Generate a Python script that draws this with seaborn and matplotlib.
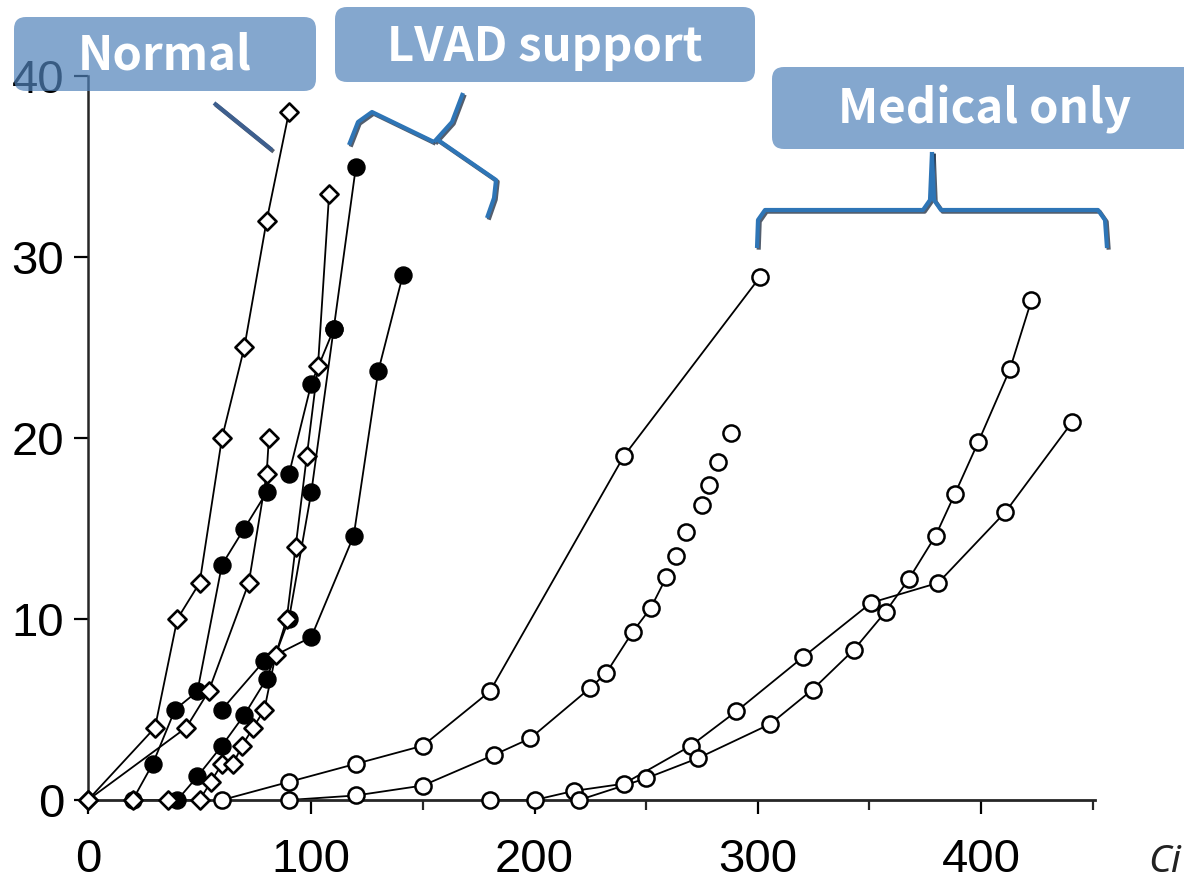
import numpy as np
import pandas as pd
import seaborn as sns
import matplotlib
matplotlib.use("Agg")
import matplotlib.pyplot as plt
from matplotlib.patches import FancyBboxPatch
from matplotlib.lines import Line2D
from matplotlib.transforms import Affine2D
import matplotlib.patheffects as pe

# ---------------- data ----------------
# Normal (open diamonds)
N1_x = [0, 30, 40, 50, 60, 70, 80, 90]
N1_y = [0, 4, 10, 12, 20, 25, 32, 38]
N2_x = [0, 44, 54, 72, 80, 81]
N2_y = [0, 4, 6, 12, 18, 20]
N3_x = [20, 36, 50, 55, 60, 65, 69, 74, 79, 84, 89, 93, 98, 103, 108]
N3_y = [0, 0, 0, 1, 2, 2, 3, 4, 5, 8, 10, 14, 19, 24, 33.5]

# LVAD support (filled circles)
L1_x = [20, 29, 39, 49, 60, 70, 80]
L1_y = [0, 2, 5, 6, 13, 15, 17]
L2_x = [40, 49, 60, 70, 80, 90, 100, 110]
L2_y = [0, 1.3, 3, 4.7, 6.7, 10, 17, 26]
L3_x = [60, 79, 100, 119, 130, 141]
L3_y = [5, 7.7, 9, 14.6, 23.7, 29]
L4_x = [90, 100, 110, 120]
L4_y = [18, 23, 26, 35]

# Medical only (open circles)
M1_x = [60, 90, 120, 150, 180, 240, 301]
M1_y = [0, 1.0, 2.0, 3.0, 6.0, 19.0, 28.9]
M2_x = [90, 120, 150, 182, 198, 225, 232, 244, 252, 259]
M2_y = [0, 0.25, 0.8, 2.5, 3.4, 6.2, 7.0, 9.3, 10.6, 12.3]
M2b_x = [263.5, 268, 275, 278, 282, 288]          # unconnected points
M2b_y = [13.5, 14.8, 16.3, 17.4, 18.7, 20.3]
M3_x = [180, 200, 217.5, 240, 270, 290.4, 320.3, 350.8, 380.8, 410.8, 440.9]
M3_y = [0, 0, 0.5, 0.9, 3.0, 4.9, 7.9, 10.9, 12.0, 15.9, 20.9]
M4_x = [220, 250, 273, 305.6, 324.5, 343, 357.2, 367.6, 379.6, 388.2, 398.8, 412.9, 422.5]
M4_y = [0, 1.2, 2.3, 4.2, 6.1, 8.3, 10.4, 12.2, 14.6, 16.9, 19.8, 23.8, 27.6]

x_ticks = [0, 100, 200, 300, 400]
x_minor = [50, 150, 250, 350, 450]
y_ticks = [0, 10, 20, 30, 40]
group_labels = ["Normal", "LVAD support", "Medical only"]


def frame(pairs):
    rows = []
    for sid, (xs, ys) in enumerate(pairs):
        for xv, yv in zip(xs, ys):
            rows.append((sid, xv, yv))
    return pd.DataFrame(rows, columns=["sid", "x", "y"])


normal_lines = frame([(N1_x, N1_y), (N2_x, N2_y), (N3_x, N3_y)])
lvad_lines = frame([(L1_x, L1_y), (L2_x, L2_y), (L3_x, L3_y), (L4_x, L4_y)])
med_lines = frame([(M1_x, M1_y), (M2_x, M2_y), (M3_x, M3_y), (M4_x, M4_y)])
med_points = frame([(M1_x, M1_y), (M2_x, M2_y), (M2b_x, M2b_y), (M3_x, M3_y), (M4_x, M4_y)])

# ---------------- figure ----------------
W, H = 1184, 882
sns.set_style("ticks")
plt.rcParams["font.family"] = ["Liberation Sans", "DejaVu Sans"]

fig = plt.figure(figsize=(W / 100, H / 100), dpi=100)
ax = fig.add_axes([88 / W, (H - 800) / H, 1007 / W, 724 / H])

for df in (med_lines, lvad_lines, normal_lines):
    sns.lineplot(data=df, x="x", y="y", units="sid", estimator=None, sort=False,
                 color="black", linewidth=1.3, legend=False, ax=ax, zorder=2)

sns.scatterplot(data=med_points, x="x", y="y", marker="o", s=135, color="white",
                edgecolor="black", linewidth=1.8, legend=False, ax=ax, zorder=3, clip_on=False)
sns.scatterplot(data=lvad_lines, x="x", y="y", marker="o", s=150, color="black",
                edgecolor="black", linewidth=1.0, legend=False, ax=ax, zorder=4, clip_on=False)
sns.scatterplot(data=normal_lines, x="x", y="y", marker="D", s=85, color="white",
                edgecolor="black", linewidth=1.9, legend=False, ax=ax, zorder=5, clip_on=False)

ax.set_xlim(0, 451)
ax.set_ylim(0, 40)
ax.set_xticks(x_ticks)
ax.set_xticks(x_minor, minor=True)
ax.set_yticks(y_ticks)
ax.set_xticklabels([str(v) for v in x_ticks])
ax.set_yticklabels([str(v) for v in y_ticks])
ax.set_xlabel("")
ax.set_ylabel("")
for s in ("top", "right"):
    ax.spines[s].set_visible(False)
ax.spines["left"].set_linewidth(1.8)
ax.spines["bottom"].set_linewidth(2.0)
ax.tick_params(axis="both", which="major", direction="out", length=10, width=1.6,
               labelsize=34, colors="black")
ax.tick_params(axis="x", which="minor", direction="out", length=7, width=1.6)
ax.tick_params(axis="x", which="major", pad=17)
ax.tick_params(axis="y", which="major", pad=7)
ax.set_facecolor("white")

# ---------------- annotations (pixel coords, y down) ----------------
T = Affine2D().scale(1, -1).translate(0, H)
box_face = (80 / 255, 130 / 255, 186 / 255)
boxes = [(14, 17, 302, 74), (335, 7, 420, 75), (772, 67, 430, 82)]
centers = [(165, 56), (545, 47), (985, 110)]
for (x0, y0, w, h), (cx, cy), lab in zip(boxes, centers, group_labels):
    p = FancyBboxPatch((x0, y0), w, h, boxstyle="round,pad=0,rounding_size=12",
                       facecolor=box_face, edgecolor="none", alpha=0.7,
                       transform=T, zorder=10)
    fig.add_artist(p)
    fig.text(cx, cy, lab, transform=T, ha="center", va="center", color="white",
             fontsize=34, fontweight="bold", family=["Noto Sans CJK KR", "DejaVu Sans"],
             zorder=11)

shadow = [pe.SimpleLineShadow(offset=(1.2, -1.2), shadow_color="#0a1a30", alpha=0.7),
          pe.Normal()]
strokes = [
    ([214, 272], [103, 150], "#3E5F8E"),
    ([349, 358, 372, 434], [145, 122, 112, 142], "#2E75B6"),
    ([434, 452, 463], [142, 122, 93], "#2E75B6"),
    ([438, 496, 494, 487], [140, 180, 198, 218], "#2E75B6"),
    ([757, 758, 765, 923, 930, 932], [248, 220, 210, 210, 200, 152], "#2E75B6"),
    ([932, 934, 941, 1098, 1105, 1107], [152, 200, 210, 210, 220, 248], "#2E75B6"),
]
for xs, ys, c in strokes:
    ln = Line2D(xs, ys, color=c, linewidth=3.0, solid_joinstyle="round",
                solid_capstyle="butt", transform=T, zorder=12, path_effects=shadow)
    fig.add_artist(ln)

fig.text(1148, 862, "Ci", transform=T, ha="left", va="center", fontsize=28,
         style="italic", color="#222222", family=["Noto Sans", "DejaVu Sans"])

fig.savefig("out.png", dpi=100, facecolor="white")
